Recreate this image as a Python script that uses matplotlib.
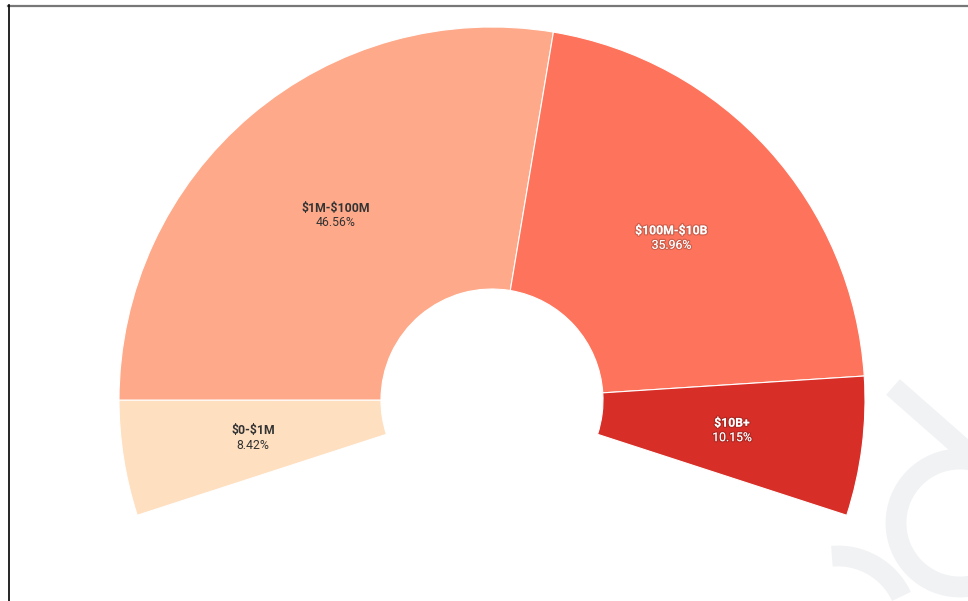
# -*- coding: utf-8 -*-

import numpy as np
import matplotlib.pyplot as plt
import matplotlib.patheffects as pe
from matplotlib.patches import Arc
from matplotlib.lines import Line2D

plt.rcParams['font.family'] = ['Roboto', 'DejaVu Sans']

categories = ['$0-$1M', '$1M-$100M', '$100M-$10B', '$10B+']
shares     = [8.42, 46.56, 35.96, 10.15]
colors     = ['#fedfc0', '#feaa8a', '#fe735b', '#d72f28']
text_light = [False, False, True, True]

W, H = 968, 601
fig = plt.figure(figsize=(W / 100, H / 100), dpi=100)
ax = fig.add_axes((0, 0, 1, 1))
ax.set_xlim(0, W)
ax.set_ylim(0, H)
ax.set_aspect('equal')
ax.axis('off')

# faint watermark at the right edge
wm = '#f1f2f4'
ax.add_patch(Arc((960, 78), 128, 128, theta1=0, theta2=360, lw=15, color=wm, zorder=0))
ax.add_line(Line2D([893, 968], [214, 148], lw=15, color=wm, zorder=0, solid_capstyle='butt'))
ax.add_patch(Arc((838, -25), 140, 140, theta1=25, theta2=95, lw=15, color=wm, zorder=0))

# partial donut: 216 degrees in total, symmetric around the top
span = 0.6
total = sum(shares)
center = (492, H - 400)
radius = 373
hole = 111
wedges, _ = ax.pie([s / total * span for s in shares], colors=colors, normalize=False,
                   startangle=198, counterclock=False, center=center, radius=radius,
                   wedgeprops=dict(width=radius - hole, edgecolor='white', linewidth=0.8))
ax.set_xlim(0, W)
ax.set_ylim(0, H)

r_lab = (radius + hole) / 2
for w, name, s, light in zip(wedges, categories, shares, text_light):
    a = np.deg2rad((w.theta1 + w.theta2) / 2)
    x = center[0] + r_lab * np.cos(a)
    y = center[1] + r_lab * np.sin(a)
    c = 'white' if light else '#333333'
    fx = [pe.withStroke(linewidth=1.8, foreground=(0, 0, 0, 0.18))] if light else []
    ax.text(x, y + 7, name.replace('$', r'\$'), ha='center', va='center',
            fontsize=8.8, fontweight='bold', color=c, path_effects=fx)
    ax.text(x, y - 7.5, f'{s:.2f}%', ha='center', va='center', fontsize=8.8,
            color=c, path_effects=fx)

# partial frame
fig.add_artist(Line2D([8 / W, 1], [1 - 5.5 / H, 1 - 5.5 / H], color='#777777', lw=1.6))
fig.add_artist(Line2D([8.5 / W, 8.5 / W], [0, 1 - 5 / H], color='black', lw=1.2))

fig.savefig('out.png', dpi=100)
